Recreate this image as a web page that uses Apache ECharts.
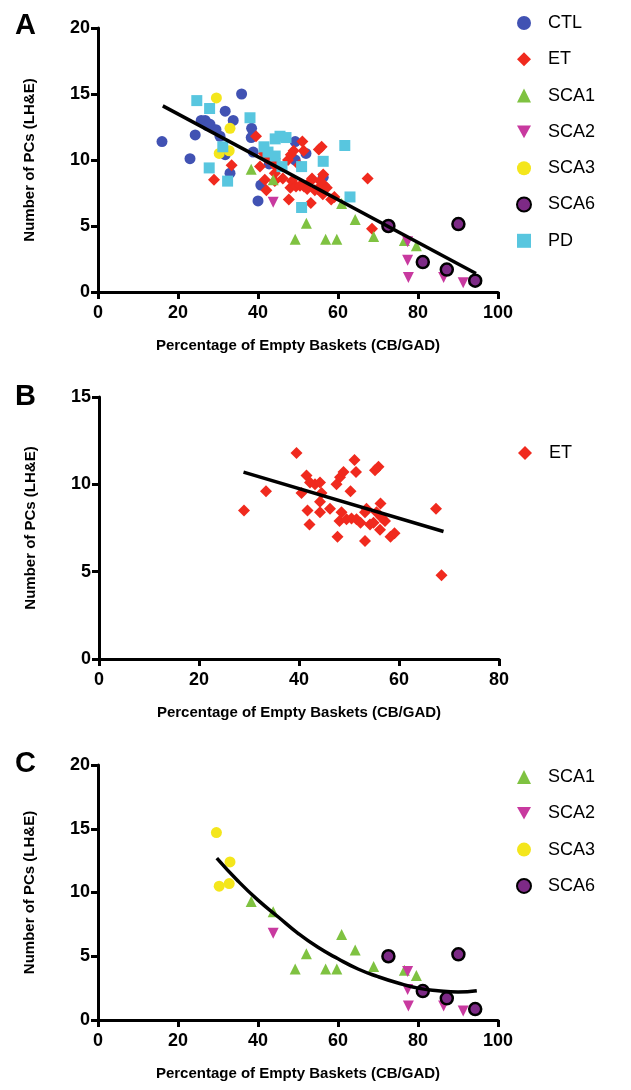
<!DOCTYPE html>
<html>
<head>
<meta charset="utf-8">
<script src="https://cdn.jsdelivr.net/npm/echarts@6/dist/echarts.min.js"></script>
<style>html,body{margin:0;padding:0;background:#fff}#c{width:631px;height:1090px}</style>
</head>
<body>
<div id="c"></div>
<script>
// ---------------- DATA ----------------
const CTL = [[16,11.4],[23,10.1],[24.3,11.9],[25.8,13.0],[26.8,13.0],[27.3,12.6],[28,12.7],[29.5,12.3],[30.5,11.8],[31.8,13.7],[33.8,13.0],[35.9,15.0],[31.8,10.4],[33,9.0],[38.4,12.4],[38.3,11.7],[38.8,10.6],[40,6.9],[40.7,8.1],[42.8,9.7],[49.3,11.4],[49.3,10.0],[52,10.5],[56.3,8.7]];
const ET = [[39.5,11.8],[29.0,8.5],[33.4,9.6],[40.5,9.5],[41.5,10.5],[42.2,10.1],[43.2,10.0],[44.2,10.1],[44.5,9.5],[44.2,9.0],[41.7,8.5],[44.2,8.4],[42.1,7.7],[46.2,8.6],[47.5,10.0],[48.2,10.4],[48.9,10.7],[51.1,11.4],[51.4,10.7],[50.3,9.6],[48.5,8.4],[48.1,7.9],[47.7,7.0],[49.5,8.0],[50.5,8.05],[51.5,8.0],[52.3,7.8],[53.2,8.4],[53.5,8.6],[53.2,6.75],[54.2,7.7],[55.2,10.8],[55.9,11.0],[56.3,8.9],[55.5,8.4],[56.5,8.1],[57.2,7.9],[56.2,7.4],[58.3,7.0],[59.1,7.2],[67.4,8.6],[68.5,4.8],[54.9,7.8]];
const SCA1 = [[38.3,9.3],[43.8,8.5],[49.3,4.0],[52.1,5.2],[56.9,4.0],[59.7,4.0],[60.9,6.7],[64.3,5.5],[68.9,4.2],[76.6,3.9],[79.6,3.5]];
const SCA2 = [[43.8,6.8],[77.4,3.8],[77.4,2.4],[77.6,1.1],[86.4,1.1],[91.3,0.7]];
const SCA3 = [[29.6,14.7],[33,12.4],[30.3,10.5],[32.8,10.7]];
const SCA6 = [[72.6,5.0],[90.1,5.15],[81.2,2.27],[87.2,1.7],[94.3,0.86]];
const PD = [[24.7,14.5],[27.9,13.9],[38,13.2],[27.8,9.4],[32.4,8.4],[31.2,11.0],[41.5,11.0],[44.3,11.6],[45.5,11.8],[47.0,11.7],[42.5,10.6],[44.3,10.3],[50.9,9.5],[56.3,9.9],[61.7,11.1],[63,7.2],[50.9,6.4],[46,9.5]];
// fit lines
const FIT_A = [[16.2,14.1],[94.5,1.4]];
const FIT_B = [[28.9,10.7],[68.9,7.3]];
const FIT_C = [[29.7,12.7],[35,10.9],[40,9.4],[45,8.1],[50,6.8],[55,5.7],[60,4.8],[65,4.0],[70,3.4],[75,2.9],[80,2.5],[85,2.3],[90,2.2],[94.7,2.3]];
// axis ticks
const X_A = {min:0,max:100,interval:20};
const Y_A = {min:0,max:20,interval:5};
const X_B = {min:0,max:80,interval:20};
const Y_B = {min:0,max:15,interval:5};
const X_C = {min:0,max:100,interval:20};
const Y_C = {min:0,max:20,interval:5};
const XNAME = 'Percentage of Empty Baskets (CB/GAD)';
const YNAME = 'Number of PCs (LH&E)';
const LEGEND_A = ['CTL','ET','SCA1','SCA2','SCA3','SCA6','PD'];
const LEGEND_B = ['ET'];
const LEGEND_C = ['SCA1','SCA2','SCA3','SCA6'];

// ---------------- STYLE ----------------
const FONT = '"Liberation Sans", Arial, Helvetica, sans-serif';
const COLORS = {CTL:'#4152b3',ET:'#f02a1e',SCA1:'#7fc241',SCA2:'#c8399f',SCA3:'#f4e61c',SCA6:'#7d2a86',PD:'#58c6df'};
const SYM = {CTL:['circle',0,11],ET:['diamond',0,12],SCA1:['triangle',0,11],SCA2:['triangle',180,11],SCA3:['circle',0,11],SCA6:['circle',0,12],PD:['rect',0,11]};
const DOWN_TRI = 'path://M0,0L10,0L5,9Z';

const grids = [
  {left:98, top:28, width:400, height:264},
  {left:99, top:397, width:400, height:262},
  {left:98, top:765, width:400, height:255}
];
function xAx(idx, t){
  return {gridIndex:idx, type:'value', min:t.min, max:t.max, interval:t.interval,
    name:XNAME, nameLocation:'middle', nameGap:46,
    nameTextStyle:{fontFamily:FONT,fontWeight:'bold',fontSize:15,color:'#000'},
    axisLine:{onZero:false,lineStyle:{color:'#000',width:3}},
    axisTick:{length:7,lineStyle:{color:'#000',width:3}},
    axisLabel:{fontFamily:FONT,fontWeight:'bold',fontSize:18,color:'#000',margin:12},
    splitLine:{show:false}};
}
function yAx(idx, t){
  return {gridIndex:idx, type:'value', min:t.min, max:t.max, interval:t.interval,
    name:YNAME, nameLocation:'middle', nameGap:61,
    nameTextStyle:{fontFamily:FONT,fontWeight:'bold',fontSize:15,color:'#000'},
    axisLine:{onZero:false,lineStyle:{color:'#000',width:3}},
    axisTick:{length:7,lineStyle:{color:'#000',width:3}},
    axisLabel:{fontFamily:FONT,fontWeight:'bold',fontSize:18,color:'#000',margin:8},
    splitLine:{show:false}};
}
function sc(name, data, idx){
  const s = SYM[name];
  const st = {color:COLORS[name], opacity:1};
  if(name==='SCA6'){ st.borderColor='#000'; st.borderWidth=2.5; }
  return {type:'scatter', name:name, data:data, xAxisIndex:idx, yAxisIndex:idx,
    symbol:s[0], symbolRotate:s[1], symbolSize:s[2], itemStyle:st, z:3};
}
function fit(data, idx, smooth){
  return {type:'line', data:data, xAxisIndex:idx, yAxisIndex:idx, showSymbol:false, symbol:'none',
    smooth:smooth, lineStyle:{color:'#000', width:3.5}, z:5, silent:true};
}
function leg(names, left, top, gap){
  return {orient:'vertical', left:left, top:top, itemGap:gap, itemWidth:14, itemHeight:14,
    data:names.map(n => n==='SCA2' ? {name:n, icon:DOWN_TRI, itemStyle:{color:COLORS.SCA2}} : {name:n}),
    selectedMode:false,
    textStyle:{fontFamily:FONT,fontSize:18,color:'#000',padding:[0,0,0,12]}};
}
const series = [
  sc('CTL',CTL,0), sc('ET',ET,0), sc('SCA1',SCA1,0), sc('SCA2',SCA2,0), sc('SCA3',SCA3,0), sc('PD',PD,0), sc('SCA6',SCA6,0),
  fit(FIT_A,0,false),
  sc('ET',ET,1), fit(FIT_B,1,false),
  sc('SCA1',SCA1,2), sc('SCA2',SCA2,2), sc('SCA3',SCA3,2), sc('SCA6',SCA6,2), fit(FIT_C,2,true)
];
const letter = (t, y) => ({type:'text', left:15, top:y, style:{text:t, font:'bold 29px '+FONT, fill:'#000'}});
const chart = echarts.init(document.getElementById('c'), null, {renderer:'canvas'});
chart.setOption({
  animation:false,
  backgroundColor:'#fff',
  grid:grids,
  xAxis:[xAx(0,X_A), xAx(1,X_B), xAx(2,X_C)],
  yAxis:[yAx(0,Y_A), yAx(1,Y_B), yAx(2,Y_C)],
  legend:[
    leg(LEGEND_A, 511, 9, 18.3),
    leg(LEGEND_B, 513, 439, 18),
    leg(LEGEND_C, 511, 763, 18.3)
  ],
  graphic:[letter('A',11), letter('B',382), letter('C',749)],
  series:series
});
</script>
</body>
</html>
